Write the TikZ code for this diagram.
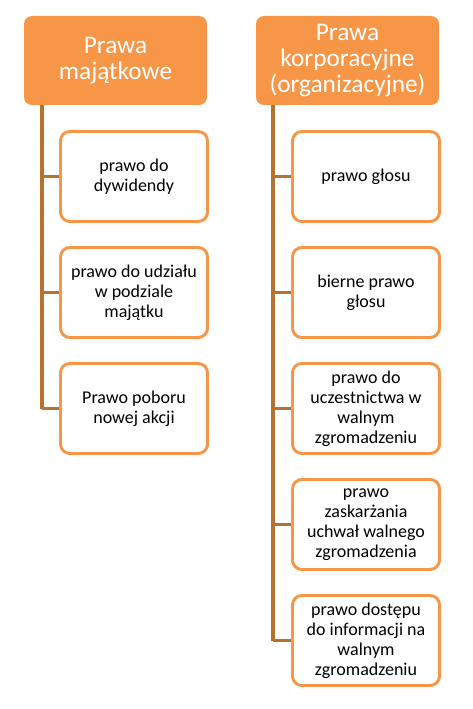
\documentclass[tikz,border=0pt]{standalone}
\usepackage{fontspec}
\setmainfont{Carlito}
\definecolor{hdr}{HTML}{F79646}
\definecolor{bord}{HTML}{F79646}
\definecolor{conn}{HTML}{B8722F}
\begin{document}
\begin{tikzpicture}[x=0.75pt,y=-0.75pt,
  header/.style={fill=hdr,draw=none,rounded corners=6pt,minimum width=137.25pt,minimum height=66.75pt,text=white,align=center,font=\fontsize{19}{19.5}\selectfont,inner sep=0pt},
  item/.style={fill=white,draw=bord,line width=2.2pt,rounded corners=7pt,minimum width=110.25pt,minimum height=67.5pt,align=center,font=\fontsize{13.5}{15}\selectfont,inner sep=0pt},
  conn/.style={draw=conn,line width=2.4pt}]
\useasboundingbox (0,0) rectangle (473,709);
% left column
\node[header] (h1) at (115.5,60.5) {Prawa\\majątkowe};
\coordinate (l0) at (42,105);
\node[item] (a1) at (134,176.5) {prawo do\\dywidendy};
\node[item] (a2) at (134,292.5) {prawo do udziału\\w podziale\\majątku};
\node[item] (a3) at (134,408.5) {Prawo poboru\\nowej akcji};
\coordinate (la1) at (42,176.5);
\coordinate (la2) at (42,292.5);
\coordinate (la3) at (42,408.5);
\draw[conn] (l0) -- (la3);
\draw[conn] (la1) -- (a1.west);
\draw[conn] (la2) -- (a2.west);
\draw[conn] (la3) -- (a3.west);
% right column
\node[header] (h2) at (347.5,60.5) {Prawa\\korporacyjne\\(organizacyjne)};
\coordinate (r0) at (273,105);
\node[item] (b1) at (366,176.5) {prawo głosu};
\node[item] (b2) at (366,292.5) {bierne prawo\\głosu};
\node[item] (b3) at (366,408.5) {prawo do\\uczestnictwa w\\walnym\\zgromadzeniu};
\node[item] (b4) at (366,524.5) {prawo\\zaskarżania\\uchwał walnego\\zgromadzenia};
\node[item] (b5) at (366,640.5) {prawo dostępu\\do informacji na\\walnym\\zgromadzeniu};
\coordinate (rb1) at (273,176.5);
\coordinate (rb2) at (273,292.5);
\coordinate (rb3) at (273,408.5);
\coordinate (rb4) at (273,524.5);
\coordinate (rb5) at (273,640.5);
\draw[conn] (r0) -- (rb5);
\draw[conn] (rb1) -- (b1.west);
\draw[conn] (rb2) -- (b2.west);
\draw[conn] (rb3) -- (b3.west);
\draw[conn] (rb4) -- (b4.west);
\draw[conn] (rb5) -- (b5.west);
\end{tikzpicture}
\end{document}
